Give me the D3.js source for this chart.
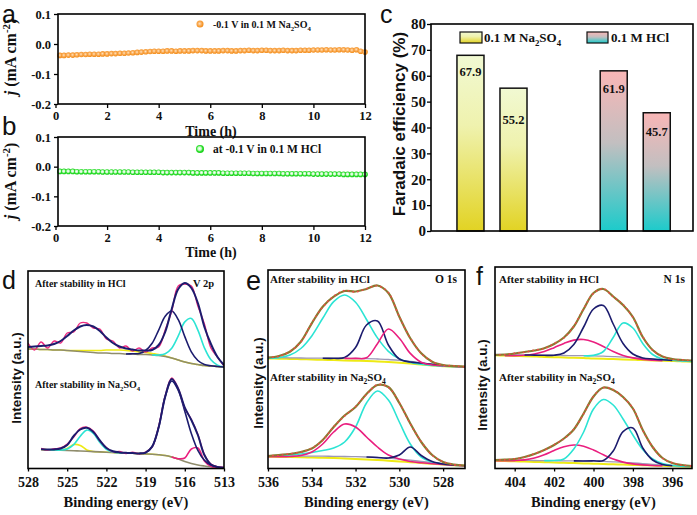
<!DOCTYPE html>
<html><head><meta charset="utf-8">
<script src="https://cdn.jsdelivr.net/npm/d3@7"></script>
<style>
body{margin:0;background:#fff}
svg{display:block}
text{font-family:"Liberation Serif","Times New Roman",serif;font-weight:bold;fill:#111}
</style></head>
<body><svg id="c" width="697" height="515"></svg>
<script>
// ---------------- DATA ----------------
// panels a/b: chronoamperometry
const timeH = [0.17,0.33,0.5,0.67,0.83,1.0,1.17,1.33,1.5,1.67,1.83,2.0,2.17,2.33,2.5,2.67,2.83,3.0,3.17,3.33,3.5,3.67,3.83,4.0,
4.17,4.33,4.5,4.67,4.83,5.0,5.17,5.33,5.5,5.67,5.83,6.0,6.17,6.33,6.5,6.67,6.83,7.0,7.17,7.33,7.5,7.67,7.83,8.0,
8.17,8.33,8.5,8.67,8.83,9.0,9.17,9.33,9.5,9.67,9.83,10.0,10.17,10.33,10.5,10.67,10.83,11.0,11.17,11.33,11.5,11.67,11.83,12.0];
const jNa2SO4 = [-0.038,-0.038,-0.037,-0.037,-0.036,-0.035,-0.035,-0.034,-0.034,-0.034,-0.033,-0.033,
-0.032,-0.032,-0.031,-0.031,-0.030,-0.029,-0.028,-0.027,-0.026,-0.025,-0.024,-0.024,
-0.024,-0.023,-0.023,-0.024,-0.023,-0.023,-0.023,-0.022,-0.022,-0.022,-0.023,-0.023,
-0.023,-0.023,-0.022,-0.022,-0.023,-0.023,-0.022,-0.022,-0.021,-0.022,-0.022,-0.021,
-0.021,-0.022,-0.022,-0.022,-0.021,-0.022,-0.022,-0.022,-0.021,-0.021,-0.021,-0.020,
-0.020,-0.020,-0.019,-0.020,-0.020,-0.019,-0.019,-0.020,-0.021,-0.019,-0.024,-0.027];
const jHCl = [-0.016,-0.016,-0.016,-0.016,-0.017,-0.017,-0.017,-0.017,-0.017,-0.017,-0.018,-0.018,
-0.018,-0.018,-0.018,-0.018,-0.018,-0.019,-0.019,-0.019,-0.019,-0.019,-0.019,-0.019,
-0.020,-0.020,-0.020,-0.020,-0.020,-0.020,-0.020,-0.021,-0.021,-0.021,-0.021,-0.021,
-0.021,-0.021,-0.022,-0.022,-0.022,-0.022,-0.022,-0.022,-0.022,-0.023,-0.023,-0.023,
-0.023,-0.023,-0.023,-0.023,-0.024,-0.024,-0.024,-0.024,-0.024,-0.024,-0.024,-0.025,
-0.025,-0.025,-0.025,-0.025,-0.025,-0.025,-0.026,-0.026,-0.026,-0.026,-0.026,-0.026];
const timeTicks = [0,2,4,6,8,10,12];
const jTicks = [-0.2,-0.1,0.0,0.1];

// panel c: Faradaic efficiency
const feGroup = ["Na2SO4","Na2SO4","HCl","HCl"];
const feSub = ["1","2","1","2"];
const feValue = [67.9,55.2,61.9,45.7];
const feTicks = [0,10,20,30,40,50,60,70,80];

// panel d: V 2p
const dE = [528,527.5,527,526.5,526,525.5,525,524.5,524,523.5,523,522.5,522,521.5,521,520.5,520,519.5,519,518.5,518,517.5,517,516.5,516,515.5,515,514.5,514,513.5,513];
const dTopBg = [120,120,119.5,119.5,119,119,118.5,118,117.5,117,116.5,116,116,115.5,115.5,115,115,114.5,114.5,114,113.5,112.5,111,109,107,105.5,104.5,103.5,103,102.5,102];
const dTopYellow = [120,120,119.5,119.5,119,119,118.5,118.5,118.5,118.5,118.5,118.5,119,119,119,118.5,118,117,116.5,115.5,114.5,113,111,109,107,105.5,104.5,103.5,103,102.5,102];
const dTopNavy = [null,null,null,null,null,null,null,null,null,null,null,null,null,null,null,115,115.2,115.5,118.5,125.7,138.9,152.8,158,149.3,132.4,117.2,108.5,104.5,103.2,102.5,102];
const dTopCyan = [null,null,null,null,null,null,null,null,null,null,null,null,null,null,null,null,null,null,null,114,114,115.2,120.8,133.1,147.1,150.6,138.9,121.2,109.2,103.9,102.2];
const dTopEnv = [122,122.5,123,123.5,125,128,133,138.5,142.5,144,142.5,138,131.5,126,122.5,120.5,119.5,118.5,118.5,119,124,137,160,180,186,181,166,142,125,112,104];
const dTopRaw = [126,119,127,121,128,126,136,137,146,146,141,140,130,128,121,123,118,121,117,121,122,139,158,183,185,183,163,145,121,112,103];
const dBotBg = [null,null,19.5,19.3,19,18.8,18.5,18.2,18,17.7,17.4,17.1,16.8,16.5,16.2,16,15.7,15.4,15.1,14.8,14.3,13.5,12,10,7.5,5.5,4,3,2.2,1.6,1.2];
const dBotYellow = [null,null,19.5,19.3,19,19.0,20.6,24.5,23.6,19.1,17.5,17.1,16.8,16.5,16.2,16,15.7,15.4,15.1,14.8,14.3,13.5,12,10,null,null,null,null,null,null,null];
const dBotCyan = [null,null,null,19.3,19,19.0,20.1,24.4,32.8,38.9,35.6,26.5,19.7,17.0,16.2,16,null,null,null,null,null,null,null,null,null,null,null,null,null,null,null];
const dBotNavy = [null,null,null,null,null,null,null,null,null,null,null,null,null,null,null,null,null,15.4,16.4,22.4,41.7,72.4,88,78.6,57.8,35.5,18.6,8.8,4,2.1,1.2];
const dBotPink = [null,null,null,null,null,null,null,null,null,null,null,null,null,null,null,null,null,null,null,null,null,null,12,10.3,11,20,21,8.1,2.7,1.6,1.2];
const dBotEnv = [null,null,19.8,19.6,19.6,20.5,24,33,39.5,41.2,37,28.5,21,17.8,16.6,16.2,15.9,15.6,16.4,22.4,41.7,72.4,90,80,61.3,49,34,14,4.5,2.1,1.2];
const dBotRaw = [null,null,20.5,19,20.2,21,25,32,40.5,41.8,38,28,21.5,17.2,17.5,15.5,16.8,15.2,16.8,22,42.5,73,91,80.5,61,49.5,34.5,14.5,5,2.4,1.5];
const dTicks = [528,525,522,519,516,513];

// panel e: O 1s
const eE = [536,535.5,535,534.5,534,533.5,533,532.5,532,531.5,531,530.5,530,529.5,529,528.5,528,527.5,527];
const eTopYellow = [110.5,110.3,110.1,109.8,109.5,109.2,108.9,108.6,108.3,108,107.5,107,106.3,105.5,104.5,103.5,102.8,102.3,102];
const eTopGray = [111.5,111.3,111.1,111,110.9,110.8,110.7,110.6,110.5,110.4,110,109.5,108.6,107.5,106.1,104.7,103.6,102.8,102.3];
const eTopCyan = [110.8,111.4,113.9,120.5,133.1,150.7,167.3,174,166.7,149.5,131.1,117.7,110.1,106.6,104.8,103.5,102.8,102.3,102];
const eTopNavy = [null,null,null,null,null,110.8,110.7,111.5,121.5,144,148,124,110,107,106,104.7,103.6,null,null];
const eTopPink = [null,null,null,null,null,null,null,110.6,110.6,111.2,125.3,140,130.8,115.6,106.8,104,103.2,102.6,102.2];
const eTopEnv = [111.3,113,117.3,127.3,145.7,162.3,172.3,178,177.5,180,183.5,176,152.3,130.7,115.7,107.3,104,103,102.3];
const eTopRaw = [111.8,112.6,117.8,127,146.2,162,172.8,178.5,177,180.4,183.2,176.5,152,131.2,115.4,107.6,103.8,103.2,102.1];
const eBotYellow = [12.3,12.1,11.9,11.7,11.5,11.2,10.9,10.5,10.1,9.6,9.0,8.3,7.6,6.8,6.0,5.2,4.4,3.7,3.0];
const eBotGray = [13.3,13.1,12.9,12.9,12.9,12.8,12.7,12.5,12.3,12,11.5,10.8,9.9,8.8,7.6,6.4,5.2,4.2,3.3];
const eBotCyan = [13,13.5,14,15,16.5,18.5,21,27,42,66,78,69,47,25,12,7,4.8,3.7,3];
const eBotPink = [12.3,12.3,12.5,13.5,17,25,37,45,42,32,22,14,10,7.5,6.2,5.3,4.5,3.8,3.1];
const eBotNavy = [null,null,null,null,null,null,null,null,null,12,11.5,11,14,22,13.5,7.5,5,4,null];
const eBotEnv = [13,14,15,17,20.5,29,42,53.5,62,75,84,82,66,45.5,27,14,7,4.5,3.5];
const eBotRaw = [13.4,13.6,15.3,16.8,21,28.6,42.4,53,62.5,74.6,84.4,81.6,66.4,45,27.4,13.8,7.3,4.3,3.6];
const eTicks = [536,534,532,530,528];

// panel f: N 1s
const fE = [405,404.5,404,403.5,403,402.5,402,401.5,401,400.5,400,399.5,399,398.5,398,397.5,397,396.5,396,395.5,395];
const fTopYellow = [113.7,113.4,113.1,112.8,112.5,112.1,111.8,111.5,111.2,110.9,110.5,110.2,109.9,109.6,109.3,108.9,108.6,108.3,108,107.6,107.3];
const fTopGray = [114.7,114.4,114.2,114,113.9,113.7,113.6,113.5,113.4,113.3,113.1,112.8,112.4,111.9,111.3,110.5,109.8,109.2,108.6,108,107.6];
const fTopNavy = [null,null,null,114,113.9,113.7,113.8,116,124.5,142,160,163.5,145,125.5,115,111,110,109.2,108.6,null,null];
const fTopCyan = [null,null,null,null,null,null,null,null,null,113.3,113.6,117.5,131.5,146,141,125.5,114.5,110,108.8,108.1,107.6];
const fTopPink = [null,113.4,113.4,113.8,115,117.4,121.3,125.6,128.9,129.5,127,122.5,117.6,113.6,111.1,109.6,108.8,108.3,null,null,null];
const fTopEnv = [114,114.5,115.5,117,118.5,120.7,125,131.5,142.5,160,176,180,172.5,164,152,132,119,112.5,110,109,108.5];
const fTopRaw = [114.4,114.2,115.9,116.8,118.9,120.4,125.5,131.2,142.8,160.5,175.6,180.3,172.2,164.4,151.6,132.4,118.7,112.8,109.7,109.2,108.3];
const fBotYellow = [8.3,8.0,7.7,7.4,7.1,6.8,6.5,6.2,5.9,5.6,5.3,5.0,4.7,4.4,4.1,3.8,3.5,3.2,2.9,2.6,2.3];
const fBotGray = [9.3,9.0,8.8,8.6,8.5,8.4,8.3,8.2,8.1,8.0,7.9,7.6,7.2,6.7,6.1,5.4,4.7,4.1,3.5,3.0,2.6];
const fBotCyan = [null,null,null,null,null,8.4,8.5,10,20,37,60,69.5,64,50,34,19.5,10,5.5,3.5,2.8,2.5];
const fBotNavy = [null,null,null,null,null,null,null,null,8.1,8.0,8.2,8.5,18,37.4,41.1,21,9,4.5,3.2,null,null];
const fBotPink = [8.3,8.2,8.4,9.1,11,14.3,18.5,22.2,24,22.8,19,14.2,9.9,6.9,5.1,4.1,3.5,3.2,null,null,null];
const fBotEnv = [9,9.3,10,12,15,19,24,30.5,39.5,55.5,72.5,81.5,79,72,60.5,39,22,11,6,4,3];
const fBotRaw = [9.4,9.1,10.3,11.7,15.3,18.8,24.4,30.2,39.8,55.2,72.8,81.2,79.4,71.6,60.8,38.6,22.3,10.8,6.2,3.8,3.1];
const fTicks = [404,402,400,398,396];

// ---------------- STYLE ----------------
const C = {navy:"#1c1c6e", cyan:"#2ce4d4", pink:"#ea1f7f", yellow:"#eeea14",
  grayD:"#8f8c6c", grayEF:"#9d98b6", envEF:"#8a7a30", rawEF:"#f04848", rawD:"#ee2b80"};

const svg = d3.select("#c");
const defs = svg.append("defs");
function linGrad(id, stops){
  const g = defs.append("linearGradient").attr("id",id).attr("x1",0).attr("y1",0).attr("x2",0).attr("y2",1);
  stops.forEach(([o,c])=>g.append("stop").attr("offset",o).attr("stop-color",c));
}
function radGrad(id, stops){
  const g = defs.append("radialGradient").attr("id",id).attr("cx","45%").attr("cy","45%").attr("r","55%");
  stops.forEach(([o,c])=>g.append("stop").attr("offset",o).attr("stop-color",c));
}
linGrad("gNa",[[0,"#f1f9d2"],[0.4,"#eff2ae"],[1,"#e2d323"]]);
linGrad("gHCl",[[0,"#f9b6b6"],[0.45,"#c2bfc0"],[1,"#1ccbcb"]]);
radGrad("gOr",[[0,"#ffe4c0"],[0.45,"#fab060"],[1,"#f38a12"]]);
radGrad("gGr",[[0,"#ffffff"],[0.4,"#c8f8c8"],[0.7,"#2ee02e"],[1,"#14cc14"]]);

function rich(t, parts, fs){
  let shift = 0;
  parts.forEach(([s,k])=>{
    const target = k==="sub" ? fs*0.3 : k==="sup" ? -fs*0.4 : 0;
    const ts = t.append("tspan").text(s).attr("dy", target-shift);
    if(k==="sub"||k==="sup") ts.attr("font-size", fs*0.68);
    if(k==="it") ts.attr("font-style","italic");
    shift = target;
  });
  return t;
}
function styleAxis(g, fs){
  g.select(".domain").remove();
  g.selectAll(".tick line").attr("stroke","#000").attr("stroke-width",1.3);
  g.selectAll(".tick text").attr("font-size",fs).attr("fill","#111")
    .style("font-family",'"Liberation Serif","Times New Roman",serif').style("font-weight","bold");
}
function letter(txt,x,y,fs){
  svg.append("text").attr("x",x).attr("y",y).text(txt)
    .style("font-family",'"Liberation Sans",Arial,sans-serif').style("font-weight","normal")
    .attr("font-size",fs).attr("fill","#111");
}

// ---------------- PANELS a / b ----------------
function stability(cfg){
  const x = d3.scaleLinear().domain([0,12]).range([55.5,365]);
  const y = d3.scaleLinear().domain([-0.2,0.1]).range([cfg.bottom,cfg.top]);
  const g = svg.append("g");
  g.append("g").attr("transform",`translate(58,0)`)
    .call(d3.axisLeft(y).tickValues(jTicks).tickFormat(d=>d.toFixed(1)).tickSize(4).tickPadding(3))
    .call(s=>styleAxis(s,12.5));
  g.append("g").attr("transform",`translate(0,${cfg.bottom})`)
    .call(d3.axisBottom(x).tickValues(timeTicks).tickSize(4).tickPadding(3))
    .call(s=>styleAxis(s,12.5));
  g.selectAll("circle.pt").data(timeH).join("circle").attr("class","pt")
    .attr("cx",d=>x(d)).attr("cy",(d,i)=>y(cfg.values[i])).attr("r",2.8)
    .attr("fill",`url(#${cfg.grad})`);
  g.append("rect").attr("x",58).attr("y",cfg.top).attr("width",365-58).attr("height",cfg.bottom-cfg.top)
    .attr("fill","none").attr("stroke","#000").attr("stroke-width",1.6);
  // legend
  g.append("circle").attr("cx",200).attr("cy",cfg.top+cfg.legDy).attr("r",cfg.legR).attr("fill",`url(#${cfg.grad})`);
  rich(g.append("text").attr("x",213).attr("y",cfg.top+cfg.legDy+3.5).attr("font-size",cfg.legFs), cfg.legend, cfg.legFs);
  // labels
  g.append("text").attr("x",211).attr("y",cfg.timeY).attr("text-anchor","middle").attr("font-size",14).text("Time (h)");
  rich(g.append("text").attr("transform",`translate(16,${cfg.labelY}) rotate(-90)`).attr("dy","0.35em")
    .attr("text-anchor","middle").attr("font-size",16),
    [["j","it"],[" (mA cm",null],["-2","sup"],[")",null]],16);
}
stability({top:14,bottom:104,values:jNa2SO4,grad:"gOr",legDy:10,legR:3.5,legFs:10,
  legend:[["-0.1 V in 0.1 M Na",null],["2","sub"],["SO",null],["4","sub"]],timeY:136,labelY:57});
stability({top:137,bottom:226,values:jHCl,grad:"gGr",legDy:12,legR:4,legFs:11.5,
  legend:[["at -0.1 V in 0.1 M HCl",null]],timeY:257,labelY:181});
letter("a",2,22.6,25); letter("b",2,135,26);

// ---------------- PANEL c ----------------
(function(){
  const y = d3.scaleLinear().domain([0,80]).range([231,24]);
  const xG = d3.scaleBand().domain(["Na2SO4","HCl"]).range([431,693]).paddingInner(0.511).paddingOuter(0.17).align(0.533);
  const xB = d3.scaleBand().domain(["1","2"]).range([0,xG.bandwidth()]).paddingInner(0.372).paddingOuter(0);
  const grad = {Na2SO4:"gNa", HCl:"gHCl"};
  const labelOffset = [21,36,22,23];
  const g = svg.append("g");
  g.append("g").attr("transform","translate(431,0)")
    .call(d3.axisLeft(y).tickValues(feTicks).tickSize(4).tickPadding(1))
    .call(s=>styleAxis(s,15));
  feValue.forEach((v,i)=>{
    const bx = xG(feGroup[i]) + xB(feSub[i]);
    g.append("rect").attr("x",bx).attr("y",y(v)).attr("width",xB.bandwidth()).attr("height",y(0)-y(v))
      .attr("fill",`url(#${grad[feGroup[i]]})`).attr("stroke","#111").attr("stroke-width",1.5);
    g.append("text").attr("x",bx+xB.bandwidth()/2).attr("y",y(v)+labelOffset[i]).attr("text-anchor","middle")
      .attr("font-size",12.5).text(v.toFixed(1));
  });
  g.append("rect").attr("x",431).attr("y",24).attr("width",693-431).attr("height",231-24)
    .attr("fill","none").attr("stroke","#000").attr("stroke-width",1.6);
  // legend
  g.append("rect").attr("x",460).attr("y",32).attr("width",22).attr("height",11).attr("fill","url(#gNa)").attr("stroke","#111").attr("stroke-width",1.2);
  rich(g.append("text").attr("x",484).attr("y",42).attr("font-size",13),[["0.1 M Na",null],["2","sub"],["SO",null],["4","sub"]],13);
  g.append("rect").attr("x",587).attr("y",32).attr("width",21).attr("height",11).attr("fill","url(#gHCl)").attr("stroke","#111").attr("stroke-width",1.2);
  g.append("text").attr("x",611).attr("y",42).attr("font-size",13).text("0.1 M HCl");
  g.append("text").attr("transform","translate(399,124) rotate(-90)").attr("dy","0.35em").attr("text-anchor","middle")
    .attr("font-size",17).style("font-family",'"Liberation Sans",Arial,sans-serif').text("Faradaic efficiency (%)");
})();
letter("c",380,22.6,25);

// ---------------- PANELS d / e / f ----------------
let clipN = 0;
function xps(p){
  const x = d3.scaleLinear().domain([p.E[0], p.E[p.E.length-1]]).range([p.left,p.right]);
  const y = d3.scaleLinear().domain([0,199]).range([469,270]);
  const id = "clip"+(clipN++);
  defs.append("clipPath").attr("id",id).append("rect").attr("x",p.left).attr("y",p.top).attr("width",p.right-p.left).attr("height",468.5-p.top);
  const g = svg.append("g");
  const pg = g.append("g").attr("clip-path",`url(#${id})`);
  const line = d3.line().defined(d=>d[1]!=null).x(d=>x(d[0])).y(d=>y(d[1])).curve(d3.curveCatmullRom.alpha(0.5));
  p.series.forEach(s=>{
    pg.append("path").datum(p.E.map((e,i)=>[e,s.v[i]])).attr("d",line).attr("fill","none")
      .attr("stroke",s.c).attr("stroke-width",s.w||1.6).attr("stroke-dasharray",s.dash||null)
      .attr("stroke-linecap",s.dash?"round":"butt").attr("stroke-linejoin","round");
  });
  g.append("g").attr("transform","translate(0,468.5)")
    .call(d3.axisBottom(x).tickValues(p.ticks).tickSize(3).tickPadding(6))
    .call(s=>styleAxis(s,14));
  g.append("rect").attr("x",p.left).attr("y",p.top).attr("width",p.right-p.left).attr("height",468.5-p.top)
    .attr("fill","none").attr("stroke","#000").attr("stroke-width",1.6);
  g.append("text").attr("x",(p.left+p.right)/2).attr("y",507).attr("text-anchor","middle").attr("font-size",14.5).text("Binding energy (eV)");
  g.append("text").attr("transform",`translate(${p.ylabX},${p.ylabY}) rotate(-90)`).attr("dy","0.35em").attr("text-anchor","middle")
    .attr("font-size",13.5).style("font-family",'"Liberation Sans",Arial,sans-serif').text("Intensity (a.u.)");
  g.append("text").attr("x",p.labX).attr("y",p.lab1Y).attr("font-size",p.labFs).text("After stability in HCl");
  rich(g.append("text").attr("x",p.labX).attr("y",p.lab2Y).attr("font-size",p.labFs),
    [["After stability in Na",null],["2","sub"],["SO",null],["4","sub"]],p.labFs);
  g.append("text").attr("x",p.coreX).attr("y",p.lab1Y).attr("text-anchor","end").attr("font-size",p.labFs+0.5).text(p.core);
}

xps({E:dE,left:28,right:224,top:271,ticks:dTicks,ylabX:16,ylabY:378,labX:35,lab1Y:287,lab2Y:388,labFs:10,core:"V 2p",coreX:214,
  series:[
    {v:dTopYellow,c:C.yellow},{v:dTopBg,c:C.grayD},{v:dTopCyan,c:C.cyan},{v:dTopNavy,c:C.navy},
    {v:dTopRaw,c:C.rawD,w:1.4},{v:dTopEnv,c:C.navy,w:2},
    {v:dBotYellow,c:C.yellow},{v:dBotBg,c:C.grayD},{v:dBotCyan,c:C.cyan},{v:dBotPink,c:C.pink},{v:dBotNavy,c:C.navy},
    {v:dBotRaw,c:C.rawD,w:1.4},{v:dBotEnv,c:C.navy,w:2}
  ]});
xps({E:eE,left:268,right:465,top:270,ticks:eTicks,ylabX:258,ylabY:383,labX:270,lab1Y:283,lab2Y:381,labFs:11,core:"O 1s",coreX:457,
  series:[
    {v:eTopYellow,c:C.yellow,w:2},{v:eTopGray,c:C.grayEF,w:1.3},{v:eTopCyan,c:C.cyan},{v:eTopNavy,c:C.navy},{v:eTopPink,c:C.pink},
    {v:eTopEnv,c:C.envEF,w:2.2},{v:eTopRaw,c:C.rawEF,w:1.6,dash:"0.3 4.5"},
    {v:eBotYellow,c:C.yellow,w:2},{v:eBotGray,c:C.grayEF,w:1.3},{v:eBotCyan,c:C.cyan},{v:eBotPink,c:C.pink},{v:eBotNavy,c:C.navy},
    {v:eBotEnv,c:C.envEF,w:2.2},{v:eBotRaw,c:C.rawEF,w:1.6,dash:"0.3 4.5"}
  ]});
xps({E:fE,left:495,right:692,top:267,ticks:fTicks,ylabX:482,ylabY:385,labX:499,lab1Y:283,lab2Y:381,labFs:11,core:"N 1s",coreX:685,
  series:[
    {v:fTopYellow,c:C.yellow,w:2},{v:fTopGray,c:C.grayEF,w:1.3},{v:fTopPink,c:C.pink},{v:fTopCyan,c:C.cyan},{v:fTopNavy,c:C.navy},
    {v:fTopEnv,c:C.envEF,w:2.2},{v:fTopRaw,c:C.rawEF,w:1.6,dash:"0.3 4.5"},
    {v:fBotYellow,c:C.yellow,w:2},{v:fBotGray,c:C.grayEF,w:1.3},{v:fBotPink,c:C.pink},{v:fBotCyan,c:C.cyan},{v:fBotNavy,c:C.navy},
    {v:fBotEnv,c:C.envEF,w:2.2},{v:fBotRaw,c:C.rawEF,w:1.6,dash:"0.3 4.5"}
  ]});
letter("d",2,289,25); letter("e",246,290,27); letter("f",476,285,25);
</script></body></html>
